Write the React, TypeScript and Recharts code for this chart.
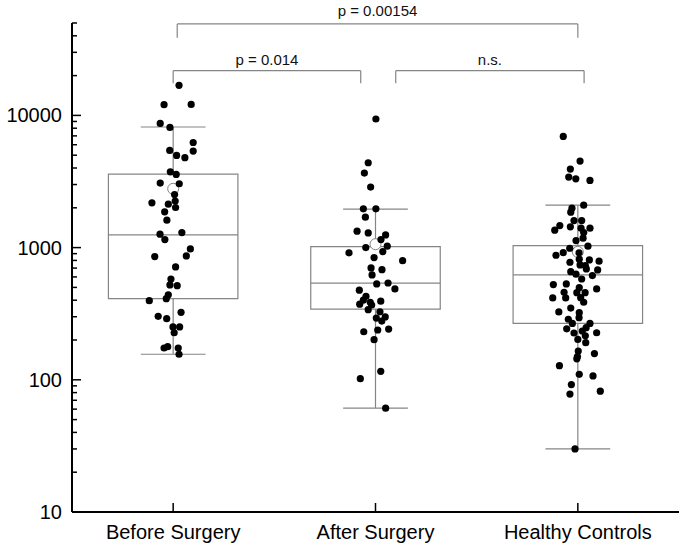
import React from "react";
import { ComposedChart, Scatter, XAxis, YAxis, ReferenceArea, ReferenceLine } from "recharts";

const groups = ["Before Surgery", "After Surgery", "Healthy Controls"];

// box statistics per group
const whiskerLow = [156, 61, 30];
const q1 = [411, 342, 267];
const median = [1248, 538, 621];
const q3 = [3597, 1018, 1036];
const whiskerHigh = [8170, 1954, 2095];
const means = [2785, 1061, 928];

// raw points (value + horizontal jitter in category units)
const beforeValues = [16900, 12050, 12110, 8700, 8110, 6240, 5375, 5430, 4980, 4785, 3745, 3575, 3075, 3040, 2520, 2180, 2132, 2248, 2010, 1864, 1613, 1264, 1300, 1150, 978, 855, 865, 714, 579, 522, 515, 440, 411, 397, 324, 302, 290, 251, 251, 227, 174, 178, 174, 156];
const beforeJitter = [0.029, -0.045, 0.089, -0.064, -0.016, 0.099, 0.099, -0.017, 0.017, 0.058, -0.014, 0.015, -0.064, 0.03, 0.007, -0.105, -0.024, 0.01, 0.012, -0.042, -0.031, -0.065, 0.043, -0.041, 0.085, -0.091, 0.065, 0.012, -0.011, -0.016, 0.02, -0.024, -0.034, -0.118, 0.039, -0.074, -0.032, -0.001, 0.032, 0.005, -0.045, -0.027, 0.025, 0.029];

const afterValues = [9390, 4385, 3660, 2870, 1964, 1964, 1700, 1331, 1292, 1248, 1150, 1025, 1000, 912, 933, 840, 797, 702, 681, 621, 531, 540, 487, 476, 428, 401, 386, 393, 373, 368, 339, 327, 299, 293, 278, 242, 238, 231, 201, 116, 102, 61];
const afterJitter = [0.002, -0.036, -0.055, -0.024, -0.06, 0.002, -0.05, -0.091, -0.036, 0.05, 0.027, 0.058, -0.048, -0.131, 0.036, -0.007, 0.134, -0.022, 0.032, -0.017, 0.006, 0.062, 0.096, -0.08, -0.047, -0.06, -0.026, 0.026, -0.078, -0.019, -0.036, 0.022, 0.048, 0.004, 0.031, 0.065, 0.011, -0.058, -0.007, 0.026, -0.075, 0.05];

const healthyValues = [6935, 4515, 3925, 3415, 3315, 3220, 2095, 1988, 1855, 1602, 1602, 1468, 1435, 1355, 1403, 1403, 1300, 1178, 1130, 1025, 989, 916, 875, 912, 817, 775, 807, 789, 740, 731, 658, 678, 629, 690, 614, 579, 525, 531, 498, 456, 456, 459, 487, 416, 416, 418, 386, 349, 326, 322, 295, 287, 267, 267, 243, 248, 234, 226, 227, 215, 202, 191, 165, 158, 150, 144, 128, 110, 107, 92, 82, 78, 30];
const healthyJitter = [-0.072, 0.011, -0.037, -0.045, -0.01, 0.06, 0.029, -0.029, -0.035, -0.019, 0.019, -0.089, -0.037, -0.114, 0.016, 0.06, 0.029, 0.026, -0.009, 0.05, -0.04, -0.072, -0.108, 0.006, 0.007, -0.039, 0.057, 0.105, 0.011, 0.037, -0.035, 0.098, -0.009, 0.042, 0.072, 0.019, -0.121, -0.057, 0.007, -0.005, 0.036, -0.068, 0.093, -0.124, -0.06, 0.014, 0.029, -0.035, -0.094, 0.007, 0.006, -0.047, -0.027, 0.06, -0.055, 0.041, 0.022, -0.019, 0.093, 0.037, 0, 0.039, 0.002, 0.082, -0.002, -0.005, -0.091, 0.007, 0.075, -0.032, 0.111, -0.039, -0.014];

// significance brackets: [x start, x end] in category units, top y, leg end y
const bracketLabels = ["p = 0.00154", "p = 0.014", "n.s."];
const bracketX = [[0.52, 2.5], [0.5, 1.427], [1.6, 2.531]];
const bracketTop = [49200, 21800, 21800];
const bracketLegEnd = [38600, 17500, 17500];

const yMajor = [10, 100, 1000, 10000];
const yTicks = [10, 20, 30, 40, 50, 60, 70, 80, 90, 100, 200, 300, 400, 500, 600, 700, 800, 900, 1000, 2000, 3000, 4000, 5000, 6000, 7000, 8000, 9000, 10000, 20000, 30000, 40000, 50000];

const AXIS_X = 72;
const PLOT_BOTTOM = 512;
const BOX_HALF = 0.32;
const CAP_HALF = 0.16;
const GRAY = "#858585";
const FONT = "'Liberation Sans', Arial, sans-serif";

const allValues = [beforeValues, afterValues, healthyValues];
const allJitter = [beforeJitter, afterJitter, healthyJitter];
const points = allValues.flatMap((vals, g) => vals.map((v, i) => ({ x: g + 0.5 + allJitter[g][i], y: v })));
const meanPoints = means.map((m, g) => ({ x: g + 0.5, y: m }));

const YTick = (props: any) => {
  const { y, payload } = props;
  const major = yMajor.includes(payload.value);
  return (
    <g>
      <line x1={AXIS_X} x2={AXIS_X + (major ? 9 : 5)} y1={y} y2={y} stroke="#000" strokeWidth={1.5} />
      {major && (
        <text x={AXIS_X - 10} y={y} dy={7} textAnchor="end" fontSize={20} fontFamily={FONT} fill="#000">
          {payload.value}
        </text>
      )}
    </g>
  );
};

const XTick = (props: any) => {
  const { x, payload } = props;
  return (
    <g>
      <line x1={x} x2={x} y1={PLOT_BOTTOM} y2={PLOT_BOTTOM - 9} stroke="#000" strokeWidth={1.5} />
      <text x={x} y={PLOT_BOTTOM + 27} textAnchor="middle" fontSize={20} fontFamily={FONT} fill="#000">
        {groups[Math.round(payload.value - 0.5)]}
      </text>
    </g>
  );
};

const Dot = (props: any) => <circle cx={props.cx} cy={props.cy} r={3.6} fill="#000" />;
const MeanDot = (props: any) => <circle cx={props.cx} cy={props.cy} r={5.5} fill="#fff" stroke={GRAY} strokeWidth={1} />;

export default function App() {
  return (
    <div style={{ position: "absolute", left: 0, top: 0, background: "#fff" }}>
      <ComposedChart width={685} height={549} margin={{ top: 23, right: 6, left: 0, bottom: 0 }}>
        <XAxis
          type="number"
          dataKey="x"
          domain={[0, 3]}
          ticks={[0.5, 1.5, 2.5]}
          interval={0}
          height={37}
          tickLine={false}
          tick={<XTick />}
          axisLine={{ stroke: "#000", strokeWidth: 2 }}
          allowDataOverflow
        />
        <YAxis
          type="number"
          dataKey="y"
          scale="log"
          domain={[10, 50000]}
          ticks={yTicks}
          interval={0}
          width={72}
          tickLine={false}
          tick={<YTick />}
          axisLine={{ stroke: "#000", strokeWidth: 2 }}
          allowDataOverflow
        />
        {groups.map((g, i) => (
          <ReferenceArea
            key={"box" + g}
            x1={i + 0.5 - BOX_HALF}
            x2={i + 0.5 + BOX_HALF}
            y1={q1[i]}
            y2={q3[i]}
            fill="#fff"
            fillOpacity={0}
            stroke={GRAY}
            strokeWidth={1.2}
            ifOverflow="visible"
          />
        ))}
        {groups.map((g, i) => (
          <ReferenceLine key={"med" + g} segment={[{ x: i + 0.5 - BOX_HALF, y: median[i] }, { x: i + 0.5 + BOX_HALF, y: median[i] }]} stroke={GRAY} strokeWidth={1.2} ifOverflow="visible" />
        ))}
        {groups.map((g, i) => (
          <ReferenceLine key={"wu" + g} segment={[{ x: i + 0.5, y: q3[i] }, { x: i + 0.5, y: whiskerHigh[i] }]} stroke={GRAY} strokeWidth={1.2} ifOverflow="visible" />
        ))}
        {groups.map((g, i) => (
          <ReferenceLine key={"wl" + g} segment={[{ x: i + 0.5, y: q1[i] }, { x: i + 0.5, y: whiskerLow[i] }]} stroke={GRAY} strokeWidth={1.2} ifOverflow="visible" />
        ))}
        {groups.map((g, i) => (
          <ReferenceLine key={"cu" + g} segment={[{ x: i + 0.5 - CAP_HALF, y: whiskerHigh[i] }, { x: i + 0.5 + CAP_HALF, y: whiskerHigh[i] }]} stroke={GRAY} strokeWidth={1.2} ifOverflow="visible" />
        ))}
        {groups.map((g, i) => (
          <ReferenceLine key={"cl" + g} segment={[{ x: i + 0.5 - CAP_HALF, y: whiskerLow[i] }, { x: i + 0.5 + CAP_HALF, y: whiskerLow[i] }]} stroke={GRAY} strokeWidth={1.2} ifOverflow="visible" />
        ))}
        {bracketLabels.map((label, i) => (
          <ReferenceLine
            key={"bh" + i}
            segment={[{ x: bracketX[i][0], y: bracketTop[i] }, { x: bracketX[i][1], y: bracketTop[i] }]}
            stroke={GRAY}
            strokeWidth={1.2}
            ifOverflow="visible"
            label={{ value: label, position: "top", offset: i === 0 ? 8 : 6, fontSize: 15, fontFamily: FONT, fill: "#111" }}
          />
        ))}
        {bracketLabels.map((label, i) => (
          <ReferenceLine key={"bl" + i} segment={[{ x: bracketX[i][0], y: bracketTop[i] }, { x: bracketX[i][0], y: bracketLegEnd[i] }]} stroke={GRAY} strokeWidth={1.2} ifOverflow="visible" />
        ))}
        {bracketLabels.map((label, i) => (
          <ReferenceLine key={"br" + i} segment={[{ x: bracketX[i][1], y: bracketTop[i] }, { x: bracketX[i][1], y: bracketLegEnd[i] }]} stroke={GRAY} strokeWidth={1.2} ifOverflow="visible" />
        ))}
        <Scatter data={meanPoints} shape={<MeanDot />} isAnimationActive={false} />
        <Scatter data={points} shape={<Dot />} isAnimationActive={false} />
      </ComposedChart>
    </div>
  );
}
